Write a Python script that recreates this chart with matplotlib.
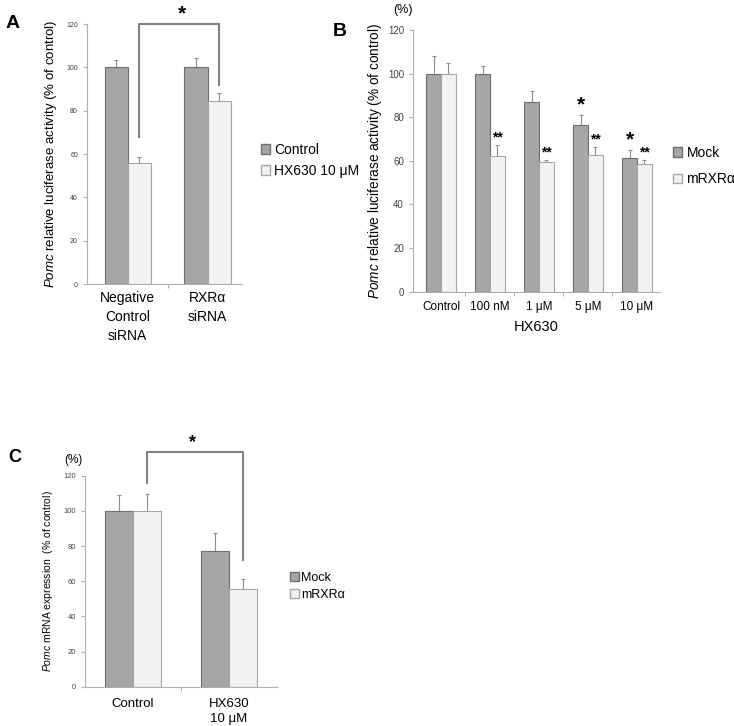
import matplotlib
matplotlib.use("Agg")
import matplotlib.pyplot as plt
import numpy as np
from matplotlib.patches import Patch

plt.rcParams['font.family'] = ['Liberation Sans', 'DejaVu Sans']
plt.rcParams['mathtext.fontset'] = 'custom'
plt.rcParams['mathtext.rm'] = 'Liberation Sans'
plt.rcParams['mathtext.it'] = 'Liberation Sans:italic'

# panel A
a_groups = ["Negative\nControl\nsiRNA", "RXRα\nsiRNA"]
a_ctrl = [100, 100]
a_ctrl_err = [3.2, 4.5]
a_hx = [55.7, 84.6]
a_hx_err = [3.0, 3.8]

# panel B
b_labels = ["Control", "100 nM", "1 μM", "5 μM", "10 μM"]
b_mock = [100, 99.7, 86.8, 76.4, 61.1]
b_mock_err = [8.2, 3.6, 5.0, 4.6, 4.1]
b_mrxr = [100, 62.4, 59.5, 62.7, 58.6]
b_mrxr_err = [4.8, 5.0, 0.8, 3.5, 1.6]
b_mock_sig = ["", "", "", "*", "*"]
b_mrxr_sig = ["", "**", "**", "**", "**"]

# panel C
c_groups = ["Control", "HX630\n10 μM"]
c_mock = [100, 77.3]
c_mock_err = [9.0, 10.3]
c_mrxr = [100, 55.4]
c_mrxr_err = [9.4, 5.8]

DARK = '#a6a6a6'
DARK_EDGE = '#6e6e6e'
LIGHT = '#f2f2f2'
LIGHT_EDGE = '#a6a6a6'
SPINE = '#b0b0b0'
BRACKET = '#808080'


def bars(ax, v1, e1, v2, e2, w, tick_fs):
    x = np.arange(len(v1))
    ax.bar(x - w / 2, v1, w, color=DARK, edgecolor=DARK_EDGE, linewidth=0.8, zorder=2)
    ax.bar(x + w / 2, v2, w, color=LIGHT, edgecolor=LIGHT_EDGE, linewidth=0.8, zorder=2)
    ax.errorbar(x - w / 2, v1, yerr=[np.zeros(len(v1)), e1], fmt='none',
                ecolor='#8c8c8c', elinewidth=0.8, capsize=1.5, capthick=0.8, zorder=1)
    ax.errorbar(x + w / 2, v2, yerr=[np.zeros(len(v2)), e2], fmt='none',
                ecolor='#8c8c8c', elinewidth=0.8, capsize=1.5, capthick=0.8, zorder=1)
    ax.set_ylim(0, 120)
    ax.set_yticks(range(0, 121, 20))
    for s in ['top', 'right']:
        ax.spines[s].set_visible(False)
    for s in ['left', 'bottom']:
        ax.spines[s].set_color(SPINE)
        ax.spines[s].set_linewidth(0.8)
    ax.tick_params(axis='y', colors=SPINE, labelcolor='#404040', labelsize=tick_fs,
                   length=3, width=0.8)
    ax.set_xticks(x)
    ax.set_xticks(x[:-1] + 0.5, minor=True)
    ax.tick_params(axis='x', which='major', length=0)
    ax.tick_params(axis='x', which='minor', length=3, width=0.8, colors=SPINE)
    return x


fig = plt.figure(figsize=(7.34, 7.26), dpi=100)

# ---------- A ----------
axA = fig.add_axes([0.1185, 0.6088, 0.211, 0.358])
w = 0.29
bars(axA, a_ctrl, a_ctrl_err, a_hx, a_hx_err, w, 5)
axA.set_xlim(-0.51, 1.43)
axA.set_xticklabels(a_groups, fontsize=10, linespacing=1.45)
axA.tick_params(axis='x', which='major', pad=5)
axA.set_ylabel(r"$\it{Pomc}$ relative luciferase activity (% of control)", fontsize=9.5, labelpad=5)
axA.plot([w / 2, w / 2, 1 + w / 2, 1 + w / 2], [68, 120, 120, 92],
         color=BRACKET, lw=1.5, clip_on=False)
axA.text(0.675, 124.5, "*", fontsize=15, fontweight='bold', ha='center', va='center')
axA.legend(handles=[Patch(facecolor=DARK, edgecolor=DARK_EDGE, label='Control'),
                    Patch(facecolor=LIGHT, edgecolor=LIGHT_EDGE, label='HX630 10 μM')],
           loc='center left', bbox_to_anchor=(1.04, 0.475), frameon=False, fontsize=10,
           handlelength=0.7, handleheight=0.7, handletextpad=0.3, labelspacing=0.5)
fig.text(13 / 734, 1 - 24 / 726, "A", fontsize=14, fontweight='bold', ha='center', va='center')

# ---------- B ----------
axB = fig.add_axes([0.5627, 0.5982, 0.3365, 0.3605])
w = 0.3
xb = bars(axB, b_mock, b_mock_err, b_mrxr, b_mrxr_err, w, 7)
axB.set_xlim(-0.57, 4.47)
axB.set_xticklabels(b_labels, fontsize=8.5)
axB.tick_params(axis='x', which='major', pad=7)
axB.set_xlabel("HX630", fontsize=10.5, labelpad=5)
axB.set_ylabel(r"$\it{Pomc}$ relative luciferase activity (% of control)", fontsize=9.8, labelpad=3)
for i in range(len(xb)):
    if b_mock_sig[i]:
        axB.text(xb[i] - w / 2, b_mock[i] + b_mock_err[i] + 4.5, b_mock_sig[i],
                 fontsize=15, fontweight='bold', ha='center', va='center')
    if b_mrxr_sig[i]:
        axB.text(xb[i] + w / 2, b_mrxr[i] + b_mrxr_err[i] + 3.5, b_mrxr_sig[i],
                 fontsize=10, fontweight='bold', ha='center', va='center')
axB.legend(handles=[Patch(facecolor=DARK, edgecolor=DARK_EDGE, label='Mock'),
                    Patch(facecolor=LIGHT, edgecolor=LIGHT_EDGE, label='mRXRα')],
           loc='center left', bbox_to_anchor=(1.0, 0.48), frameon=False, fontsize=10,
           handlelength=0.7, handleheight=0.7, handletextpad=0.3, labelspacing=0.9)
fig.text(340 / 734, 1 - 32 / 726, "B", fontsize=14, fontweight='bold', ha='center', va='center')
fig.text(403 / 734, 1 - 10 / 726, "(%)", fontsize=9, ha='center', va='center')

# ---------- C ----------
axC = fig.add_axes([0.1158, 0.0541, 0.2616, 0.2906])
w = 0.29
bars(axC, c_mock, c_mock_err, c_mrxr, c_mrxr_err, w, 5.5)
axC.set_xlim(-0.5, 1.5)
axC.set_xticklabels(c_groups, fontsize=9.5, linespacing=1.35)
axC.tick_params(axis='x', which='major', pad=8)
axC.set_ylabel(r"$\it{Pomc}$ mRNA expression  (% of control)", fontsize=7.5, labelpad=6)
axC.plot([w / 2, w / 2, 1 + w / 2, 1 + w / 2], [116, 133.6, 133.6, 72],
         color=BRACKET, lw=1.5, clip_on=False)
axC.text(0.615, 138.6, "*", fontsize=13, fontweight='bold', ha='center', va='center')
axC.legend(handles=[Patch(facecolor=DARK, edgecolor=DARK_EDGE, label='Mock'),
                    Patch(facecolor=LIGHT, edgecolor=LIGHT_EDGE, label='mRXRα')],
           loc='center left', bbox_to_anchor=(1.01, 0.475), frameon=False, fontsize=9,
           handlelength=0.7, handleheight=0.7, handletextpad=0.2, labelspacing=0.4)
fig.text(15 / 734, 1 - 457 / 726, "C", fontsize=13, fontweight='bold', ha='center', va='center')
fig.text(73 / 734, 1 - 460 / 726, "(%)", fontsize=8.5, ha='center', va='center')

fig.savefig("out.png", dpi=100, facecolor='white')
